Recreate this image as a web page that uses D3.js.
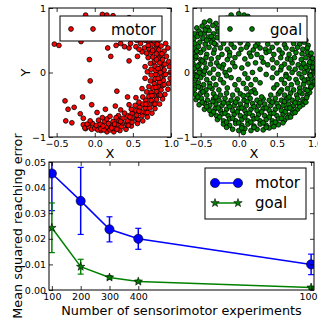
<!DOCTYPE html>
<html>
<head>
<meta charset="utf-8">
<script src="https://cdn.jsdelivr.net/npm/d3@7"></script>
<style>
body { margin: 0; background: #fff; }
text { font-family: "DejaVu Sans", sans-serif; }
</style>
</head>
<body>
<div id="chart"></div>
<script>
// Motor-space exploration: reached hand positions
const motorPts = [
  [-0.53,0.44],[-0.47,0.42],[-0.18,0.48],[0.17,0.38],[0.21,0.25],[0.28,0.42],[0.34,0.45],[0.39,0.4],
  [0.45,0.38],[0.47,0.45],[0.54,0.4],[0.56,0.25],[0.45,0.18],[-0.07,0.2],[0.69,0.01],
  [-0.12,0.89],[0.1,0.9],[0.16,0.89],[0.24,0.88],[0.3,0.81],[0.05,0.7],[0.4,0.75],[0.2,0.6],
  [-0.06,-0.13],[-0.39,-0.44],[-0.16,-0.38],[0.29,-0.29],[0.43,-0.38],[-0.35,-0.57],[-0.27,-0.54],
  [-0.04,-0.5],[-0.19,-0.64],[0.03,-0.62],[0.14,-0.57],[0.27,-0.52],[-0.38,-0.75],[-0.3,-0.78],
  [-0.15,-0.71],[-0.12,-0.87],[-0.15,-0.81],
  [0.16,-0.92],[0.25,-0.92],[0.33,-0.9],[0.41,-0.88],[0.48,-0.83],[0.56,-0.79],[0.63,-0.75],[0.69,-0.69],
  [0.75,-0.63],[0.79,-0.56],[0.85,-0.49],[0.89,-0.41],[0.92,-0.34],[0.96,-0.26],[0.97,-0.17],[0.99,-0.09],
  [0.99,0.0],[0.98,0.09],[0.97,0.17],[0.94,0.25],[0.91,0.33],[0.87,0.41],[0.83,0.48],[0.78,0.54],
  [0.72,0.6],[0.66,0.66],[0.59,0.7],
  [0.08,-0.9],[0.2,-0.89],[0.27,-0.87],[0.35,-0.84],[0.42,-0.81],[0.49,-0.77],[0.55,-0.72],[0.62,-0.67],
  [0.67,-0.62],[0.72,-0.55],[0.77,-0.49],[0.81,-0.42],[0.84,-0.35],[0.87,-0.27],[0.89,-0.2],[0.9,-0.12],
  [0.91,-0.04],[0.91,0.04],[0.9,0.12],[0.89,0.2],[0.87,0.27],[0.84,0.35],[0.81,0.42],[0.77,0.49],
  [0.72,0.55],[0.67,0.61],
  [0.15,-0.85],[0.22,-0.83],[0.29,-0.81],[0.36,-0.78],[0.43,-0.75],[0.49,-0.7],[0.55,-0.66],[0.61,-0.61],
  [0.66,-0.55],[0.7,-0.49],[0.74,-0.43],[0.78,-0.36],[0.81,-0.29],[0.83,-0.22],[0.85,-0.15],[0.86,-0.08],
  [0.86,0.0],[0.86,0.07],[0.85,0.15],[0.83,0.22],[0.81,0.29],[0.78,0.36],[0.74,0.43],[0.7,0.49],
  [0.24,-0.76],[0.31,-0.74],[0.37,-0.71],[0.43,-0.67],[0.49,-0.63],[0.54,-0.59],[0.59,-0.54],[0.63,-0.49],
  [0.67,-0.43],[0.71,-0.37],[0.74,-0.31],[0.76,-0.24],[0.78,-0.17],[0.79,-0.1],[0.8,-0.03],[0.8,0.03],
  [0.79,0.1],[0.78,0.17],[0.76,0.24],[0.74,0.31],[0.71,0.37],
  [0.31,-0.67],[0.39,-0.63],[0.48,-0.57],[0.53,-0.51],[0.58,-0.46],[0.63,-0.38],[0.68,-0.3],[0.71,-0.22],
  [0.73,-0.13],[0.74,-0.04],[0.74,0.05],[0.73,0.14],[0.7,0.23],
  [0.34,-0.58],[0.45,-0.5],[0.54,-0.39],[0.62,-0.25],[0.66,-0.09],[0.66,0.09],
  [-0.13,-0.86],[-0.08,-0.84],[-0.04,-0.88],[0.0,-0.86],[0.04,-0.89],[0.08,-0.87],[0.12,-0.89],[-0.1,-0.8],
  [-0.03,-0.79],[0.02,-0.82],[0.07,-0.8],[0.11,-0.83],[0.05,-0.74],[0.13,-0.76],[0.18,-0.79],[-0.06,-0.75],
  [0.1,-0.7],[0.16,-0.72],[0.2,-0.68],[0.22,-0.86],[0.26,-0.8],[0.28,-0.7],
  [0.55,0.76],[0.5,0.8],[0.45,0.85],[0.6,0.72],[0.62,0.65],[0.52,0.7],[0.93,0.45],[0.96,0.38],
  [0.29,-0.88],[0.44,-0.82],[0.57,-0.73],[0.69,-0.62],[0.79,-0.49],[0.86,-0.35],[0.91,-0.19],[0.93,-0.03],
  [0.92,0.13],[0.88,0.29],[0.82,0.44],[0.73,0.57],
  [0.34,-0.76],[0.46,-0.69],[0.58,-0.6],[0.67,-0.49],[0.75,-0.36],[0.8,-0.23],[0.83,-0.09],[0.83,0.06],
  [0.81,0.2],[0.76,0.34],
  [0.6,0.45],[0.65,0.38],[0.62,0.32],[0.68,0.3],[0.58,0.36],[0.66,0.5],[0.7,0.42],[0.6,0.55],[0.55,0.5]
];

// Goal-space exploration: reached hand positions
const goalPts = [
  [-0.16,0.84],[-0.1,0.89],[0.0,0.91],[0.07,0.89],[0.12,0.87],[-0.22,0.83],
  [-0.45,0.78],[-0.38,0.8],[-0.3,0.76],[-0.21,0.79],[0.1,0.78],[0.3,0.8],[0.5,0.76],
  [-0.55,0.69],[-0.48,0.72],[-0.41,0.7],[-0.34,0.73],[-0.28,0.68],[0.05,0.7],[0.35,0.72],[0.6,0.68],
  [-0.58,0.6],[-0.52,0.64],[-0.45,0.61],[-0.39,0.65],[-0.33,0.6],[-0.27,0.63],[0.2,0.62],[0.7,0.6],
  [-0.59,0.52],[-0.54,0.56],[-0.47,0.53],[-0.4,0.55],[-0.34,0.51],[-0.28,0.54],[0.1,0.55],[0.5,0.53],
  [0.82,0.55],[0.88,0.5],
  [-0.58,0.45],[-0.51,0.47],[-0.44,0.44],[-0.36,0.47],[-0.3,0.43],[-0.2,0.45],[-0.1,0.44],[0.02,0.46],
  [0.12,0.43],[0.25,0.45],[0.38,0.44],[0.5,0.46],[0.6,0.43],[0.72,0.45],[0.8,0.44],[0.86,0.47],[0.91,0.42],
  [-0.59,0.37],[-0.53,0.4],[-0.46,0.36],[-0.39,0.39],[-0.32,0.35],[-0.24,0.38],[-0.15,0.36],[-0.06,0.39],
  [0.03,0.36],[0.1,0.39],[0.19,0.35],[0.28,0.38],[0.35,0.36],[0.44,0.39],[0.53,0.35],[0.62,0.38],
  [0.7,0.36],[0.77,0.39],[0.84,0.36],[0.9,0.38],
  [-0.58,0.29],[-0.5,0.31],[-0.42,0.28],[-0.33,0.3],[-0.22,0.28],[-0.12,0.31],[0.0,0.29],[0.14,0.3],
  [0.24,0.28],[0.36,0.31],[0.46,0.28],[0.57,0.3],[0.66,0.28],[0.75,0.31],[0.83,0.29],[0.9,0.31],[0.94,0.27],
  [-0.57,0.22],[-0.5,0.2],[-0.43,0.23],[-0.36,0.21],[-0.27,0.23],[-0.15,0.2],[-0.05,0.23],[0.08,0.21],
  [0.3,0.23],[0.44,0.2],[0.55,0.23],[0.64,0.21],[0.73,0.23],[0.82,0.2],[0.88,0.23],[0.95,0.21],
  [-0.6,0.14],[-0.52,0.12],[-0.45,0.15],[-0.37,0.13],[-0.29,0.15],[-0.2,0.12],[-0.08,0.15],[0.12,0.13],
  [0.22,0.15],[0.38,0.12],[0.5,0.15],[0.6,0.13],[0.7,0.15],[0.78,0.12],[0.85,0.14],[0.92,0.12],[0.97,0.15],
  [-0.58,0.06],[-0.51,0.04],[-0.43,0.07],[-0.33,0.05],[-0.22,0.07],[-0.12,0.04],[0.04,0.07],[0.28,0.05],
  [0.45,0.07],[0.55,0.04],[0.66,0.07],[0.74,0.05],[0.82,0.07],[0.9,0.04],[0.97,0.06],
  [-0.59,-0.02],[-0.52,0.0],[-0.46,-0.03],[-0.38,-0.01],[-0.27,-0.03],[-0.18,0.0],[0.08,-0.02],[0.18,0.0],
  [0.36,-0.03],[0.5,-0.01],[0.62,-0.03],[0.7,0.0],[0.79,-0.02],[0.86,0.0],[0.93,-0.03],[0.98,-0.01],
  [-0.57,-0.1],[-0.5,-0.08],[-0.42,-0.11],[-0.33,-0.09],[-0.24,-0.11],[-0.1,-0.08],[0.0,-0.11],[0.12,-0.09],
  [0.22,-0.11],[0.44,-0.08],[0.56,-0.11],[0.66,-0.09],[0.75,-0.11],[0.83,-0.08],[0.9,-0.11],[0.96,-0.09],
  [-0.59,-0.18],[-0.53,-0.16],[-0.46,-0.19],[-0.38,-0.17],[-0.3,-0.19],[-0.2,-0.16],[-0.05,-0.19],[0.06,-0.17],
  [0.16,-0.19],[0.28,-0.16],[0.5,-0.19],[0.6,-0.17],[0.69,-0.19],[0.77,-0.16],[0.85,-0.18],[0.92,-0.16],[0.97,-0.19],
  [-0.58,-0.26],[-0.5,-0.24],[-0.43,-0.27],[-0.35,-0.25],[-0.26,-0.27],[-0.15,-0.24],[-0.02,-0.27],[0.1,-0.25],
  [0.2,-0.27],[0.46,-0.24],[0.56,-0.27],[0.64,-0.25],[0.72,-0.27],[0.8,-0.24],[0.87,-0.26],[0.94,-0.24],
  [-0.57,-0.34],[-0.5,-0.32],[-0.42,-0.35],[-0.33,-0.33],[-0.24,-0.35],[-0.16,-0.32],[-0.08,-0.35],[0.02,-0.33],
  [0.12,-0.35],[0.22,-0.32],[0.42,-0.35],[0.52,-0.33],[0.6,-0.35],[0.68,-0.32],[0.76,-0.35],[0.83,-0.33],
  [0.9,-0.35],[0.93,-0.31],
  [-0.56,-0.42],[-0.49,-0.4],[-0.41,-0.43],[-0.33,-0.41],[-0.26,-0.43],[-0.18,-0.4],[-0.1,-0.43],[-0.02,-0.41],
  [0.07,-0.43],[0.15,-0.4],[0.24,-0.43],[0.32,-0.41],[0.4,-0.43],[0.48,-0.4],[0.56,-0.43],[0.63,-0.41],
  [0.7,-0.43],[0.77,-0.4],[0.84,-0.42],[0.89,-0.39],
  [-0.52,-0.5],[-0.45,-0.48],[-0.38,-0.51],[-0.3,-0.49],[-0.22,-0.51],[-0.14,-0.48],[-0.06,-0.51],[0.02,-0.49],
  [0.1,-0.51],[0.18,-0.48],[0.26,-0.51],[0.34,-0.49],[0.42,-0.51],[0.5,-0.48],[0.58,-0.51],[0.65,-0.49],
  [0.72,-0.51],[0.79,-0.48],[0.84,-0.5],
  [-0.45,-0.57],[-0.38,-0.59],[-0.31,-0.56],[-0.24,-0.59],[-0.16,-0.57],[-0.08,-0.59],[0.0,-0.56],[0.08,-0.59],
  [0.16,-0.57],[0.24,-0.59],[0.32,-0.56],[0.4,-0.59],[0.48,-0.57],[0.56,-0.59],[0.63,-0.56],[0.7,-0.58],[0.77,-0.57],
  [-0.36,-0.65],[-0.29,-0.67],[-0.22,-0.64],[-0.14,-0.67],[-0.06,-0.65],[0.02,-0.67],[0.1,-0.64],[0.18,-0.67],
  [0.26,-0.65],[0.34,-0.67],[0.42,-0.64],[0.5,-0.67],[0.58,-0.65],[0.66,-0.66],[0.71,-0.63],
  [-0.28,-0.73],[-0.2,-0.75],[-0.12,-0.72],[-0.04,-0.75],[0.04,-0.73],[0.12,-0.75],[0.2,-0.72],[0.28,-0.75],
  [0.36,-0.73],[0.44,-0.75],[0.52,-0.72],[0.6,-0.74],[0.64,-0.7],
  [-0.2,-0.8],[-0.12,-0.82],[-0.04,-0.79],[0.04,-0.82],[0.12,-0.8],[0.2,-0.83],[0.28,-0.8],[0.36,-0.82],
  [0.44,-0.79],[0.52,-0.81],
  [-0.08,-0.88],[0.0,-0.9],[0.08,-0.87],[0.16,-0.9],[0.24,-0.88],[0.32,-0.89],[0.4,-0.86],[0.06,-0.93],
  [-0.48,-0.46],[-0.34,-0.45],[-0.2,-0.47],[-0.04,-0.46],[0.11,-0.45],[0.28,-0.47],[0.44,-0.46],[0.6,-0.45],
  [0.74,-0.47],[0.86,-0.45],
  [-0.42,-0.53],[-0.27,-0.55],[-0.12,-0.53],[0.04,-0.55],[0.2,-0.53],[0.36,-0.55],[0.52,-0.53],[0.67,-0.55],[0.8,-0.53],
  [-0.33,-0.61],[-0.18,-0.63],[-0.02,-0.61],[0.14,-0.63],[0.3,-0.61],[0.46,-0.63],[0.61,-0.61],[0.74,-0.62],
  [-0.25,-0.69],[-0.08,-0.71],[0.08,-0.69],[0.24,-0.71],[0.4,-0.69],[0.56,-0.71],[0.68,-0.69],
  [-0.16,-0.77],[0.0,-0.78],[0.16,-0.77],[0.32,-0.78],[0.48,-0.77],[0.58,-0.78],
  [-0.16,-0.85],[0.04,-0.86],[0.2,-0.85],[0.36,-0.85],[0.46,-0.84],
  [0.95,0.3],[0.97,0.08],[0.94,-0.05],[0.99,-0.14],[0.95,-0.22],[0.9,-0.28],[0.97,0.22],[0.93,0.16],
  [0.88,-0.46],[0.8,-0.3],[0.88,0.08],[0.86,-0.12],
  [-0.55,0.33],[-0.56,0.25],[-0.54,0.1],[-0.55,-0.06],[-0.53,-0.22],[-0.54,-0.38],[-0.47,-0.3],[-0.45,0.02],
  [-0.48,0.18],[-0.42,0.5],[-0.5,0.6],[-0.44,0.66],[-0.36,0.56],[-0.32,0.45],
  [-0.26,0.1],[-0.16,-0.05],[-0.05,0.09],[0.16,0.25],[0.32,0.16],[0.56,0.09],[0.62,-0.06],[0.4,0.33],
  [0.22,0.41],[-0.12,0.26],[0.06,-0.36],[0.3,-0.38],[0.16,-0.3],[-0.3,-0.38],[-0.38,-0.22],[0.54,-0.3],
  [0.68,0.2],[0.66,-0.38]
];

// Reaching error versus number of experiments
const nExp = [100, 200, 300, 400, 1000];
const motorMean = [0.0455, 0.0348, 0.0237, 0.0200, 0.0100];
const motorErr  = [0.0145, 0.0131, 0.0049, 0.0041, 0.0040];
const goalMean  = [0.0243, 0.0091, 0.0049, 0.0033, 0.0010];
const goalErr   = [0.0097, 0.0029, 0.0007, 0.0005, 0.0003];

const scatterXTicks = [-0.5, 0, 0.5, 1.0];
const scatterYTicks = [-1, 0, 1];
const errXTicks = [100, 200, 300, 400, 1000];
const errYTicks = [0, 0.01, 0.02, 0.03, 0.04, 0.05];

const svg = d3.select("#chart")
    .append("svg")
    .attr("width", 318)
    .attr("height", 319);

// draw ticks pointing inward on all four sides, labels only left/bottom
function frameAxes(g, x, y, w, h, xt, yt, xf, yf) {
    g.append("g")
        .attr("transform", `translate(0,${h})`)
        .call(d3.axisBottom(x).tickValues(xt).tickSize(-4).tickPadding(3).tickFormat(xf));
    g.append("g")
        .call(d3.axisTop(x).tickValues(xt).tickSize(-4).tickFormat(""));
    g.append("g")
        .call(d3.axisLeft(y).tickValues(yt).tickSize(-4).tickPadding(3).tickFormat(yf));
    g.append("g")
        .attr("transform", `translate(${w},0)`)
        .call(d3.axisRight(y).tickValues(yt).tickSize(-4).tickFormat(""));
    g.selectAll(".domain").remove();
    g.selectAll(".tick line").attr("stroke", "#000").attr("stroke-width", 0.8);
    g.selectAll(".tick text").attr("font-size", 9.5).attr("fill", "#000")
        .attr("font-family", "DejaVu Sans, sans-serif");
    g.append("rect")
        .attr("width", w).attr("height", h)
        .attr("fill", "none").attr("stroke", "#000").attr("stroke-width", 1);
}

function scatterPanel(pts, color, name, left, id, legendBox) {
    const w = 122, h = 129, top = 8;
    const g = svg.append("g").attr("transform", `translate(${left},${top})`);
    const x = d3.scaleLinear().domain([-0.6, 1.0]).range([0, w]);
    const y = d3.scaleLinear().domain([-1, 1]).range([h, 0]);

    g.append("clipPath").attr("id", id)
        .append("rect").attr("width", w).attr("height", h);

    g.append("g").attr("clip-path", `url(#${id})`)
        .selectAll("circle")
        .data(pts)
        .enter()
        .append("circle")
        .attr("cx", d => x(d[0]))
        .attr("cy", d => y(d[1]))
        .attr("r", 2.4)
        .attr("fill", color)
        .attr("stroke", "#000")
        .attr("stroke-width", 0.8);

    frameAxes(g, x, y, w, h, scatterXTicks, scatterYTicks, d3.format(".1f"), d3.format("d"));

    g.append("text")
        .attr("x", w / 2).attr("y", h + 21)
        .attr("text-anchor", "middle")
        .attr("font-size", 13)
        .text("X");

    // legend
    const lg = g.append("g").attr("transform", `translate(${legendBox.x - left},${legendBox.y - top})`);
    lg.append("rect")
        .attr("width", legendBox.w).attr("height", legendBox.h)
        .attr("fill", "#fff").attr("stroke", "#000").attr("stroke-width", 1);
    lg.selectAll("circle")
        .data([11, 33])
        .enter()
        .append("circle")
        .attr("cx", d => d)
        .attr("cy", 13)
        .attr("r", 2.4)
        .attr("fill", color)
        .attr("stroke", "#000")
        .attr("stroke-width", 0.8);
    lg.append("text")
        .attr("x", legendBox.tx).attr("y", 19)
        .attr("font-size", 15)
        .text(name);
    return g;
}

const gl = scatterPanel(motorPts, "#ff0000", "motor", 49, "clipL", { x: 60, y: 16, w: 102, h: 25, tx: 51 });
scatterPanel(goalPts, "#008000", "goal", 193, "clipR", { x: 219, y: 16, w: 88, h: 26, tx: 51 });

gl.append("text")
    .attr("transform", "translate(-19,64.5) rotate(-90)")
    .attr("text-anchor", "middle")
    .attr("font-size", 13)
    .text("Y");

// Bottom panel: error curves
const bm = { left: 49, top: 162, w: 265, h: 128 };
const gb = svg.append("g").attr("transform", `translate(${bm.left},${bm.top})`);
const xb = d3.scaleLinear().domain([90, 1010]).range([0, bm.w]);
const yb = d3.scaleLinear().domain([0, 0.05]).range([bm.h, 0]);

gb.append("clipPath").attr("id", "clipB")
    .append("rect").attr("width", bm.w).attr("height", bm.h);
const plot = gb.append("g").attr("clip-path", "url(#clipB)");

const series = [
    { name: "motor", mean: motorMean, err: motorErr, color: "#0000ff", marker: "circle" },
    { name: "goal", mean: goalMean, err: goalErr, color: "#008000", marker: "star" }
];

series.forEach(s => {
    const pts = nExp.map((n, i) => ({ n: n, m: s.mean[i], e: s.err[i] }));
    // error bars
    const eb = plot.append("g");
    eb.selectAll(".ebar")
        .data(pts).enter().append("line")
        .attr("x1", d => xb(d.n)).attr("x2", d => xb(d.n))
        .attr("y1", d => yb(d.m - d.e)).attr("y2", d => yb(d.m + d.e))
        .attr("stroke", s.color).attr("stroke-width", 1.5);
    [-1, 1].forEach(sign => {
        eb.selectAll(".cap" + sign)
            .data(pts).enter().append("line")
            .attr("x1", d => xb(d.n) - 3).attr("x2", d => xb(d.n) + 3)
            .attr("y1", d => yb(d.m + sign * d.e)).attr("y2", d => yb(d.m + sign * d.e))
            .attr("stroke", s.color).attr("stroke-width", 1.2);
    });
    plot.append("path")
        .datum(pts)
        .attr("fill", "none")
        .attr("stroke", s.color)
        .attr("stroke-width", 1.5)
        .attr("d", d3.line().x(d => xb(d.n)).y(d => yb(d.m)));
    if (s.marker === "circle") {
        plot.selectAll(".mk-" + s.name)
            .data(pts).enter().append("circle")
            .attr("cx", d => xb(d.n)).attr("cy", d => yb(d.m))
            .attr("r", 4.6)
            .attr("fill", s.color).attr("stroke", "#000").attr("stroke-width", 0.6);
    } else {
        plot.selectAll(".mk-" + s.name)
            .data(pts).enter().append("path")
            .attr("transform", d => `translate(${xb(d.n)},${yb(d.m)})`)
            .attr("d", d3.symbol(d3.symbolStar, 22))
            .attr("fill", s.color).attr("stroke", "#000").attr("stroke-width", 0.6);
    }
});

frameAxes(gb, xb, yb, bm.w, bm.h, errXTicks, errYTicks, d3.format("d"), d3.format(".2f"));

gb.append("text")
    .attr("x", bm.w / 2).attr("y", bm.h + 25)
    .attr("text-anchor", "middle")
    .attr("font-size", 12.8)
    .text("Number of sensorimotor experiments");

gb.append("text")
    .attr("transform", `translate(-27,${bm.h / 2}) rotate(-90)`)
    .attr("text-anchor", "middle")
    .attr("font-size", 12.8)
    .text("Mean squared reaching error");

// legend of the bottom panel
const lb = gb.append("g").attr("transform", `translate(${205 - bm.left},${168 - bm.top})`);
lb.append("rect")
    .attr("width", 101).attr("height", 51)
    .attr("fill", "#fff").attr("stroke", "#000").attr("stroke-width", 1);
series.forEach((s, i) => {
    const yy = 15 + i * 20;
    lb.append("line")
        .attr("x1", 10).attr("x2", 33).attr("y1", yy).attr("y2", yy)
        .attr("stroke", s.color).attr("stroke-width", 1.5);
    [10, 33].forEach(xx => {
        if (s.marker === "circle") {
            lb.append("circle")
                .attr("cx", xx).attr("cy", yy).attr("r", 4.6)
                .attr("fill", s.color).attr("stroke", "#000").attr("stroke-width", 0.6);
        } else {
            lb.append("path")
                .attr("transform", `translate(${xx},${yy})`)
                .attr("d", d3.symbol(d3.symbolStar, 22))
                .attr("fill", s.color).attr("stroke", "#000").attr("stroke-width", 0.6);
        }
    });
    lb.append("text")
        .attr("x", 50).attr("y", yy + 5)
        .attr("font-size", 15)
        .text(s.name);
});
</script>
</body>
</html>
